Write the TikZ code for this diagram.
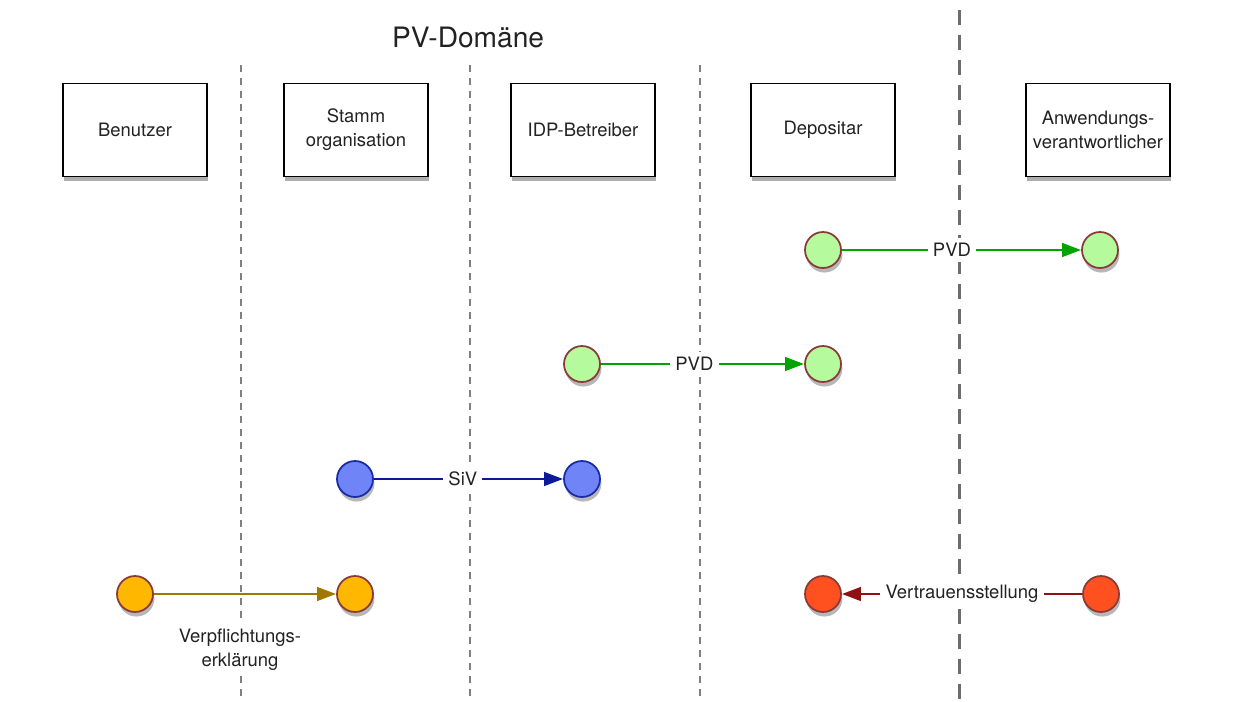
\documentclass[tikz,border=0pt]{standalone}
\usepackage{fontspec}
\setmainfont{TeX Gyre Heros}
\usetikzlibrary{shadows,arrows.meta}

\definecolor{pvdfill}{HTML}{B6FA9E}
\definecolor{pvdline}{HTML}{00A300}
\definecolor{sivfill}{HTML}{6F84F7}
\definecolor{sivdraw}{HTML}{1A2BA6}
\definecolor{sivline}{HTML}{0A1A9A}
\definecolor{vefill}{HTML}{FFB700}
\definecolor{veline}{HTML}{A07800}
\definecolor{vtfill}{HTML}{FF5020}
\definecolor{vtline}{HTML}{8E1212}
\definecolor{rim}{HTML}{8B3A3A}
\definecolor{ink}{HTML}{222222}

\tikzset{
	every node/.style={font=\fontsize{10.5}{13.6}\selectfont,text=ink},
	actor/.style={draw=black,line width=1.1pt,fill=white,minimum width=2.88cm,minimum height=1.86cm,align=center,
		drop shadow={shadow xshift=0.8pt,shadow yshift=-2.6pt,opacity=0.45,fill=black!70}},
	dot/.style={circle,minimum size=0.72cm,inner sep=0pt,line width=1pt,draw=rim,
		drop shadow={shadow xshift=0.8pt,shadow yshift=-2.6pt,opacity=0.4,fill=black!70}},
	msg/.style={line width=1.6pt,-{Triangle[length=0.38cm,width=0.27cm]}},
	lbl/.style={fill=white,inner sep=3pt}
}

\begin{document}
\begin{tikzpicture}[x=0.02cm,y=-0.02cm]
	\useasboundingbox (0,0) rectangle (1245,701);

	%LANE SEPARATORS
	\foreach \x in {241,470,700}{
		\draw[gray,line width=0.6pt,dash pattern=on 4pt off 3.4pt] (\x,65)--(\x,701); %thin
	}
	\draw[gray!85!black,line width=1.7pt,dash pattern=on 8.5pt off 5.7pt] (959,10)--(959,701); %domain border

	%TITLE
	\node (title) at (468,37) {\fontsize{16}{19}\selectfont PV-Domäne};

	%ROLES
	\foreach \name/\x/\txt in {benutzer/135/Benutzer,stamm/356/Stamm\\organisation,idp/583/IDP-Betreiber,
		depositar/823/Depositar,anwendung/1098/Anwendungs-\\verantwortlicher}{
		\node[actor] (\name) at (\x,130) {\txt};
	}

	%PVD DEPOSITAR -> ANWENDUNG
	\node[dot,fill=pvdfill] (pvdA) at (823,250) {};
	\node[dot,fill=pvdfill] (pvdB) at (1100,250) {};
	\draw[msg,pvdline] (pvdA) -- (pvdB) node[lbl,pos=0.46] {PVD};

	%PVD IDP -> DEPOSITAR
	\node[dot,fill=pvdfill] (pvdC) at (582,364) {};
	\node[dot,fill=pvdfill] (pvdD) at (823,364) {};
	\draw[msg,pvdline] (pvdC) -- (pvdD) node[lbl,pos=0.46] {PVD};

	%SIV STAMM -> IDP
	\node[dot,fill=sivfill,draw=sivdraw] (sivA) at (355,479) {};
	\node[dot,fill=sivfill,draw=sivdraw] (sivB) at (582,479) {};
	\draw[msg,sivline] (sivA) -- (sivB) node[lbl,pos=0.47] {SiV};

	%VERPFLICHTUNG BENUTZER -> STAMM
	\node[dot,fill=vefill] (veA) at (135,594) {};
	\node[dot,fill=vefill] (veB) at (355,594) {};
	\draw[msg,veline] (veA) -- (veB);
	\node[lbl,align=center] (veText) at (240,650) {Verpflichtungs-\\erklärung};

	%VERTRAUEN ANWENDUNG -> DEPOSITAR
	\node[dot,fill=vtfill] (vtA) at (823,594) {};
	\node[dot,fill=vtfill] (vtB) at (1101,594) {};
	\draw[msg,vtline] (vtB) -- (vtA) node[lbl,midway] {Vertrauensstellung};
\end{tikzpicture}
\end{document}
